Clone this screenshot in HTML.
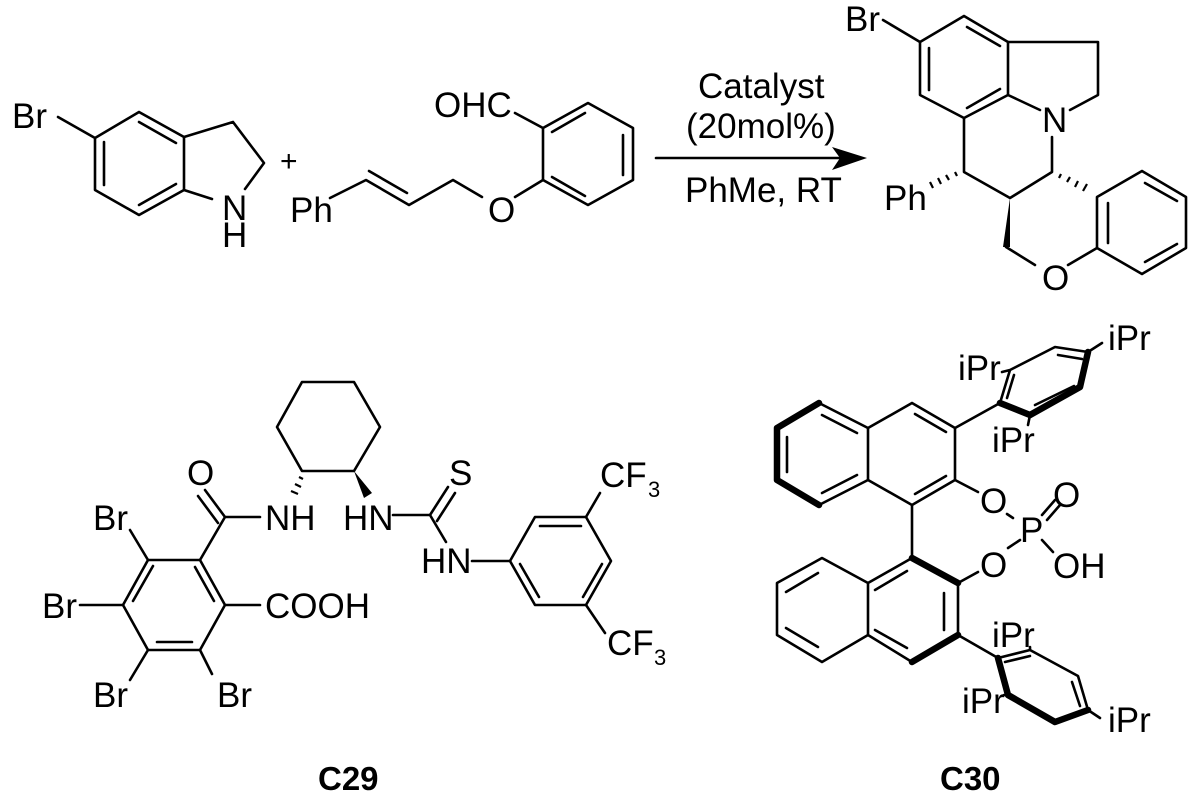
<!DOCTYPE html>
<html><head><meta charset="utf-8"><style>
html,body{margin:0;padding:0;background:#fff;}
svg{display:block}
text{font-family:"Liberation Sans",Arial,sans-serif;font-size:35px;fill:#000}
</style></head><body>
<svg width="1200" height="806" viewBox="0 0 1200 806" xmlns="http://www.w3.org/2000/svg">
<g stroke="#000" stroke-width="2.6" fill="none" stroke-linecap="round" stroke-linejoin="round">
<path d="M58,117 L95,138 M95,138 L139,112 L184,137 L184,190 L139,215 L95,190 Z"/>
<path d="M139,122 L176,143 M104,142 L104,185 M139,205 L176,184"/>
<path d="M184,137 L233,122 L264,163 L245,189 M184,190 L212,199"/>
<path d="M330,198 L366,180 L409,205 L453,180 L482,197 M369,171 L407,193"/>
<path d="M515,197 L543,180"/>
<path d="M543,180 L543,128 L588,103 L633,128 L633,180 L588,205 Z"/>
<path d="M552,132 L585,113 M623,135 L623,175 M552,177 L585,196 M515,113 L543,128"/>
<path d="M656,158 L840,158"/>
<path d="M883,20 L920,42"/>
<path d="M920,42 L964,16 L1008,42 L1008,95 L964,118 L920,95 Z"/>
<path d="M967,27 L1000,46 M929,48 L929,90 M967,108 L1000,89"/>
<path d="M1008,42 L1098,42 L1098,95 L1070,110 M1008,95 L1040,110"/>
<path d="M1052,137 L1052,172 L1010,198 L964,172 L964,118 M1006,247 L1035,265 M1068,265 L1097,248"/>
<path d="M1097,248 L1097,197 L1142,171 L1186,197 L1186,248 L1142,274 Z"/>
<path d="M1108,203 L1108,243 M1145,183 L1177,201 M1145,262 L1177,244"/>
<path d="M302,382 L354,382 L380,427 L354,471 L302,471 L277,427 Z"/>
<path d="M225,517 L260,517 M225,517 L205,490 M218,523 L198,496 M225,517 L200,560"/>
<path d="M200,560 L225,605 L200,650 L148,650 L123,605 L148,560 Z"/>
<path d="M195,567 L214,601 M133,601 L153,566 M157,642 L192,642"/>
<path d="M148,560 L130,530 M123,605 L80,605 M148,650 L130,680 M200,650 L212,674 M225,605 L260,605"/>
<path d="M393,515 L430,515 L448,487 M437,521 L455,493 M430,515 L446,542 M472,561 L510,561"/>
<path d="M510,561 L535,517 L586,517 L611,561 L586,605 L535,605 Z"/>
<path d="M540,526 L581,526 M602,564 L583,597 M520,564 L539,597 M586,517 L600,493 M586,605 L605,633"/>
<path d="M955,428 L912,403 L868,428 L868,480 L912,505 L955,480 Z"/>
<path d="M868,428 L819,403 M868,480 L819,505"/>
<path d="M915,414 L946,432 M915,494 L946,476 M822,415 L857,433 M787,437 L787,472 M822,493 L857,475"/>
<path d="M955,428 L1000,403 M955,480 L978,492 M1007,514 L1013,518 M1042,515 L1055,500 M1047,520 L1060,505 M1042,540 L1053,552 M1020,540 L1008,548"/>
<path d="M912,505 L912,558 M958,583 L978,572"/>
<path d="M958,583 L958,635 M912,662 L868,635 L868,583 L912,558 M868,583 L822,558 L777,583 L777,635 L822,662 L868,635"/>
<path d="M875,590 L907,571 M944,593 L944,630 M875,630 L907,648 M786,592 L818,573 M786,628 L818,647"/>
<path d="M958,635 L998,658 L1030,650 L1078,676 L1088,710 M1030,650 L1030,647 M1008,695 L1004,695 M1088,710 L1100,718"/>
<path d="M1005,662 L1030,656 M1072,682 L1080,706"/>
<path d="M1000,403 L1010,370 L1055,347 L1088,352 M1088,352 L1102,343 M1010,370 L1002,372"/>
<path d="M1007,398 L1014,375 M1058,355 L1082,359 M1035,405 L1074,386 M1030,415 L1028,425"/>
</g>
<g stroke="#000" stroke-width="6.5" fill="none" stroke-linejoin="round" stroke-linecap="round">
<path d="M819,403 L777,428 L777,480 L819,505"/>
<path d="M912,558 L958,583 M958,635 L912,662"/>
<path d="M998,658 L1008,695 L1055,722 L1088,710"/>
<path d="M1000,403 L1030,415 L1080,387 L1088,352"/>
</g>
<polygon points="1010,198 1003,247 1010,247" fill="#000"/>
<polygon points="354,471 364,498 372,493" fill="#000"/>
<g stroke="#000" stroke-width="2.2">
<path d="M1059,178 L1061,174 M1067,182 L1070,177 M1075,187 L1078,181 M1083,191 L1087,184"/>
<path d="M957,176 L955,172 M949,180 L946,175 M941,184 L938,178 M933,188 L930,182"/>
<path d="M299,477 L303,479 M295,484 L301,487 M291,491 L298,494"/>
</g>
<polygon points="832,147 867,158 832,170 840,158" fill="#000"/>
<text x="12" y="128">Br</text>
<text x="222" y="220">N</text>
<text x="222" y="247">H</text>
<text x="280" y="171" style="font-size:30px">+</text>
<text x="290" y="222">Ph</text>
<text x="488" y="222">O</text>
<text x="434" y="117">OHC</text>
<text x="698" y="98">Catalyst</text>
<text x="686" y="138">(20mol%)</text>
<text x="685" y="202">PhMe, RT</text>
<text x="845" y="31">Br</text>
<text x="1042" y="132">N</text>
<text x="884" y="210">Ph</text>
<text x="1042" y="290">O</text>
<text x="187" y="485">O</text>
<text x="265" y="530">NH</text>
<text x="343" y="530">HN</text>
<text x="449" y="485">S</text>
<text x="421" y="573">HN</text>
<text x="600" y="487">CF</text><text x="648" y="497" style="font-size:22px">3</text>
<text x="607" y="655">CF</text><text x="654" y="665" style="font-size:22px">3</text>
<text x="93" y="530">Br</text>
<text x="42" y="618">Br</text>
<text x="265" y="618">COOH</text>
<text x="93" y="707">Br</text>
<text x="217" y="707">Br</text>
<text x="1108" y="350">iPr</text>
<text x="958" y="380">iPr</text>
<text x="992" y="452">iPr</text>
<text x="980" y="513">O</text>
<text x="1053" y="507">O</text>
<text x="1020" y="542">P</text>
<text x="980" y="577">O</text>
<text x="1053" y="578">OH</text>
<text x="992" y="647">iPr</text>
<text x="962" y="713">iPr</text>
<text x="1108" y="732">iPr</text>
<text x="318" y="790" style="font-weight:bold;font-size:33px">C29</text>
<text x="940" y="790" style="font-weight:bold;font-size:33px">C30</text>
</svg>
</body></html>
